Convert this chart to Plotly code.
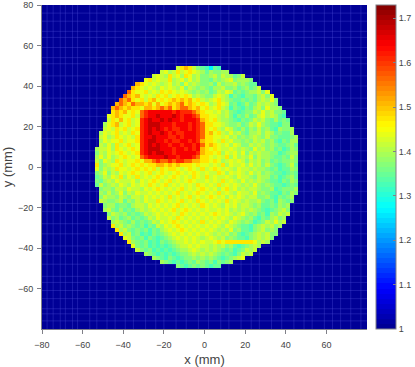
import plotly.graph_objects as go

# cell size is 2 mm, one string per row from the top, spaces only to help counting
levels = {'.': None, '0': 1.27, '1': 1.33, '2': 1.35, '3': 1.37, '4': 1.395, '5': 1.42, '6': 1.44,
          '7': 1.47, '8': 1.51, '9': 1.56, 'a': 1.61, 'b': 1.65, 'c': 1.68}
x_mm = list(range(-79, 80, 2))
y_mm = list(range(79, -80, -2))
x_ticks = [-80, -60, -40, -20, 0, 20, 40, 60]
y_ticks = [-60, -40, -20, 0, 20, 40, 60, 80]
bar_ticks = [1, 1.1, 1.2, 1.3, 1.4, 1.5, 1.6, 1.7]
# faint lighter lines in the empty part of the image
stripe_x = [-77.5, -74.5, -71, -68.5, -65, -62.5, -56.5, -53, -48, -44, -39, -35, -29, -24, -20, -14, -9, -3,
            2, 8, 12, 18, 23, 27, 33, 38, 44, 49, 53, 59, 63, 67, 72, 77]
stripe_y = [-76, -72.5, -70, -65, -61, -57, -54, -48, -43, -39, -33, -28, -22, -18, -12, -7, -3, 3, 8, 14,
            19, 25, 29, 34, 40, 45, 51, 54, 59, 64, 67, 72, 76]
blank = ".......... .......... .......... .......... .......... .......... .......... .........."
rows = [blank] * 15 + [
    ".......... .......... .......... ...5787532 1021...... .......... .......... ..........",
    ".......... .......... .........5 6457567654 243344.... .......... .......... ..........",
    ".......... .......... .......565 4756476453 3453544235 .......... .......... ..........",
    ".......... .......... .....67565 5745646453 3243456344 43........ .......... ..........",
    ".......... .......... ...8765654 5645364543 3425344534 322....... .......... ..........",
    ".......... .......... ..87656546 5654635434 3244533423 4235...... .......... ..........",
    ".......... .......... .976675657 6765654343 4235465232 344536.... .......... ..........",
    ".......... .......... 9878656576 7567676454 3356541321 3324536... .......... ..........",
    ".......... .........9 8976757867 6787878675 4567543223 23245463.. .......... ..........",
    ".......... ........89 8798878686 7878978767 6457652312 42354543.. .......... ..........",
    ".......... .......898 7877688789 8978998786 7567541321 324536443. .......... ..........",
    ".......... .......787 86769abbbb bbabaaa987 6656453212 3354645332 .......... ..........",
    ".......... ......6787 66759abbcb bbcbabba97 7665453132 4235645421 .......... ..........",
    ".......... ......5768 6756abcbbc bcbbabbba8 7675443213 2354532423 2......... ..........",
    ".......... .....46785 6756abcccb bbabbbaba9 7766543342 3546432213 3......... ..........",
    ".......... .....56576 7567abcbcb abaabbaba9 7675465324 2435342143 34........ ..........",
    ".......... ....465675 6576abcbbc babaabbba9 7867546453 2445354232 24........ ..........",
    ".......... ....564576 5657abbcbb baababbba9 7766564534 3454353322 234....... ..........",
    ".......... ....465667 5667abccbb abaabbaba8 7765756443 4354534213 244....... ..........",
    ".......... ....546475 6756abcbcb babbabbab9 7876564653 3545434322 342....... ..........",
    ".......... ...4556476 5676abcccb bbabbabab8 7676556545 4364534231 243....... ..........",
    ".......... ...3546567 6567abcbcc bbabbbbba8 7767465646 3545443312 344....... ..........",
    ".......... ...4646456 76569abbbb cbbabbba97 7656574645 4635443223 253....... ..........",
    ".......... ...5365476 56676889a9 9a9aa99887 7676456565 3545342323 343....... ..........",
    ".......... ...7345667 5676767788 7878777676 6565746556 4645353212 352....... ..........",
    ".......... ...6354576 6567676757 6776567657 5676565465 5454432312 243....... ..........",
    ".......... ...3463546 5676567567 6567656765 6557646565 4645343221 232....... ..........",
    ".......... ...2354657 4657565676 5676565765 7565565465 5435442312 342....... ..........",
    ".......... ...3245465 5564656765 6756567655 6565756546 4545432213 243....... ..........",
    ".......... ...2534546 5465657656 7565656576 5657565654 5464343221 232....... ..........",
    ".......... ....344355 4655465676 5656756567 6564675645 4554334123 334....... ..........",
    ".......... ....435346 3546556565 6567565676 5657565465 5463432213 243....... ..........",
    ".......... ....354435 4355465656 5756567565 6765646565 4553342132 34........ ..........",
    ".......... ....543345 2435465576 5656756576 5656575654 5445323143 23........ ..........",
    ".......... .....34423 3245546565 6567565657 6565465645 5434223243 4......... ..........",
    ".......... .....45324 2324545656 5675676565 6556564545 4543212345 3......... ..........",
    ".......... ......3543 4232354565 6565765656 5676565456 4342314354 5......... ..........",
    ".......... ......5342 3423235465 5657656565 6565654654 3421324534 .......... ..........",
    ".......... .......454 3242323546 5676565657 5656546543 4312354645 .......... ..........",
    ".......... .......745 3432313254 6567656565 6565465432 213454534. .......... ..........",
    ".......... ........74 5323231324 5656765656 5654546342 21345343.. .......... ..........",
    ".......... .........7 4523121323 4565656565 6545453421 23454533.. .......... ..........",
    ".......... .......... 6532313212 3456565654 5654534322 1345453... .......... ..........",
    ".......... .......... .743231213 2345565656 5567677777 776454.... .......... ..........",
    ".......... .......... ..63231212 1234556565 5454534212 3454...... .......... ..........",
    ".......... .......... ...5323121 2123445654 5454323123 545....... .......... ..........",
    ".......... .......... .....43212 1212334545 4543232135 45........ .......... ..........",
    ".......... .......... .......432 1321233434 3432123456 .......... .......... ..........",
    ".......... .......... .........4 3212123243 2313234... .......... .......... ..........",
    ".......... .......... .......... ...3212323 2122...... .......... .......... ..........",
] + [blank] * 15

z = [[levels[c] for c in r.replace(" ", "")] for r in rows]

# matlab style jet, 64 flat steps
jet = [(0, (0, 0, 143)), (0.125, (0, 0, 255)), (0.375, (0, 255, 255)), (0.625, (255, 255, 0)),
       (0.875, (255, 0, 0)), (1, (128, 0, 0))]

def jet_color(t):
    for (t0, c0), (t1, c1) in zip(jet, jet[1:]):
        if t <= t1:
            f = (t - t0) / (t1 - t0)
            return "rgb(%d,%d,%d)" % tuple(round(a + (b - a) * f) for a, b in zip(c0, c1))

scale = []
for i in range(64):
    col = jet_color((i + 0.5) / 64)
    scale.append([i / 64, col])
    scale.append([(i + 1) / 64, col])

text_col = "#444444"
line_col = "#808088"
stripe_col = "rgba(90,90,225,0.3)"

# container ref so the bar does not push the plot area in
fig = go.Figure(go.Heatmap(
    x=x_mm, y=y_mm, z=z, zmin=1, zmax=1.73, colorscale=scale,
    colorbar=dict(xref="container", x=376 / 415, xanchor="left", xpad=0,
                  y=0, yanchor="bottom", ypad=0, len=1, thickness=20,
                  tickvals=bar_ticks, ticktext=[str(t) for t in bar_ticks], ticks="inside", ticklen=3,
                  tickcolor=line_col, outlinecolor=line_col, outlinewidth=1,
                  tickfont=dict(size=9, color=text_col, family="Liberation Sans")),
))
for v in stripe_x:
    fig.add_vline(x=v, line=dict(color=stripe_col, width=1), layer="below")
for v in stripe_y:
    fig.add_hline(y=v, line=dict(color=stripe_col, width=1), layer="below")
fig.update_layout(
    template="none",
    width=415, height=367, margin=dict(l=42, r=48, t=5, b=38),
    paper_bgcolor="white", plot_bgcolor=jet_color(0.5 / 64),
    font=dict(family="Liberation Sans", color=text_col),
)
fig.update_xaxes(range=[-80, 80], tickvals=x_ticks, ticks="outside", ticklen=4,
                 tickcolor=line_col, showline=True, linecolor=line_col, showgrid=False, zeroline=False,
                 automargin=False, ticklabelstandoff=3,
                 tickfont=dict(size=9, color=text_col), title=dict(text="x (mm)", font=dict(size=13), standoff=8))
fig.update_yaxes(range=[-80, 80], tickvals=y_ticks, ticks="outside", ticklen=4,
                 tickcolor=line_col, showline=True, linecolor=line_col, showgrid=False, zeroline=False,
                 automargin=False, ticklabelstandoff=2,
                 tickfont=dict(size=9, color=text_col), title=dict(text="y (mm)", font=dict(size=13), standoff=6))
# page margin would push the figure 8 px off
fig.write_html("out.html", config=dict(displayModeBar=False),
               post_script="document.body.style.margin='0';document.body.style.overflow='hidden';")
